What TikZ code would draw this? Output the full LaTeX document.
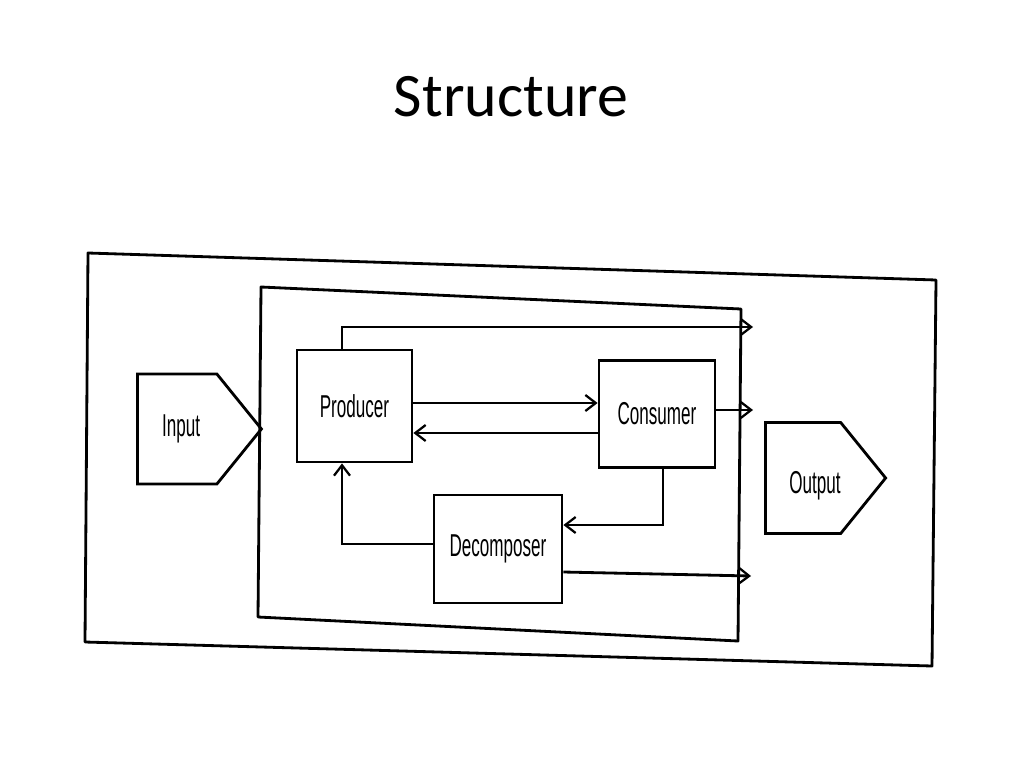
\documentclass[tikz,border=0pt]{standalone}
\usepackage{fontspec}
\setmainfont{Carlito}
\newfontfamily\boxfont[FakeStretch=0.54]{Liberation Sans}
\usetikzlibrary{arrows.meta, calc, shapes.symbols}

\tikzset{
  frame/.style={line width=2pt, line join=round},
  block/.style={draw, line width=2pt, inner sep=0pt,
    font=\boxfont\fontsize{22.5}{26}\selectfont},
  port/.style={block, shape=signal, signal to=east, signal pointer angle=102, anchor=west},
  flow/.style={line width=2pt,
    -{Straight Barb[length=2.6mm, width=4mm, line width=1.6pt]}},
}

\begin{document}
\begin{tikzpicture}[x=0.25mm, y=-0.25mm]
\useasboundingbox (0,0) rectangle (1024,768);

\node[font=\fontsize{44}{50}\selectfont] (title) at (511,97) {Structure};

% frames
\draw[frame] (88,253) -- (936,280) -- (932,666) -- (85,642) -- cycle;
\draw[frame] (261,287) -- (741,309) -- (738,641) -- (258,617) -- cycle;

% ports
\node[port, minimum width=31mm, minimum height=27.5mm] (Input) at (136,429) {\hspace{2mm}Input};
\node[port, minimum width=29.75mm, minimum height=27.75mm] (Output) at (764,478) {\hspace{6mm}\raisebox{-2mm}[\height][\depth]{Output}};

% blocks
\node[block, minimum width=28.75mm, minimum height=28mm] (Producer) at (354.5,406) {Producer};
\node[block, minimum width=29mm, minimum height=26.75mm] (Consumer) at (657,414) {Consumer};
\node[block, minimum width=32mm, minimum height=27mm] (Decomposer) at (498,549) {Decomposer};

% loose ends
\coordinate (out1) at (753,327);
\coordinate (out2) at (753,410);
\coordinate (out3) at (751,576);

% flows
\draw[flow] (Producer.north -| 342,0) |- (out1);
\draw[flow] (Producer.east |- 0,403) -- (Consumer.west |- 0,403);
\draw[flow] (Consumer.west |- 0,433) -- (Producer.east |- 0,433);
\draw[flow] (Consumer.east |- 0,410) -- (out2);
\draw[flow] (Consumer.south -| 663,0) |- (Decomposer.east |- 0,525);
\draw[flow] (Decomposer.west |- 0,544) -| (Producer.south -| 342,0);
\draw[flow] (Decomposer.east |- 0,572) -- (out3);
\end{tikzpicture}
\end{document}
